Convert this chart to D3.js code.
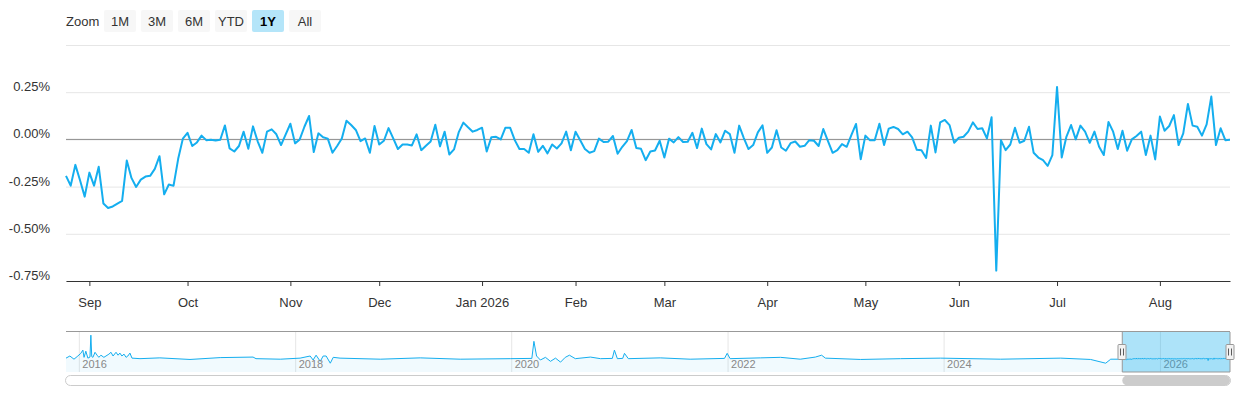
<!DOCTYPE html>
<html>
<head>
<meta charset="utf-8">
<script src="https://cdnjs.cloudflare.com/ajax/libs/d3/7.8.5/d3.min.js"></script>
<style>
  body { margin: 0; background: #fff; font-family: "Liberation Sans", Arial, sans-serif; }
</style>
</head>
<body>
<div id="chart"></div>
<script>
// daily % change, 1Y view with navigator

var zoomButtons = ["1M", "3M", "6M", "YTD", "1Y", "All"];
var selectedButton = "1Y";
var yTicks = [-0.75, -0.5, -0.25, 0, 0.25, 0.5];
var navYears = [2016, 2018, 2020, 2022, 2024, 2026];

var startDate = "2025-08-25";
var holidays = ["2025-09-01", "2025-10-13", "2025-11-27", "2025-12-25", "2026-01-01", "2026-01-19",
                "2026-02-16", "2026-04-03", "2026-05-25", "2026-06-19", "2026-07-03"];

// one value per trading day (%)
var values = [
  -0.193, -0.245, -0.135, -0.216, -0.303, -0.176, -0.245, -0.145, -0.340, -0.363,
  -0.355, -0.340, -0.326, -0.112, -0.204, -0.252, -0.213, -0.197, -0.193, -0.156,
  -0.089, -0.291, -0.239, -0.246, -0.103, 0.004, 0.035, -0.035, -0.016, 0.020,
  -0.004, -0.002, -0.006, -0.002, 0.074, -0.048, -0.064, -0.035, 0.041, -0.050,
  0.069, -0.010, -0.071, 0.041, 0.053, 0.027, -0.030, 0.027, 0.083, -0.021,
  0.000, 0.067, 0.124, -0.067, 0.032, 0.011, 0.004, -0.071, -0.035, 0.005,
  0.099, 0.076, 0.050, -0.009, 0.005, -0.071, 0.071, -0.027, -0.007, 0.060,
  0.005, -0.051, -0.027, -0.027, -0.032, 0.027, -0.057, -0.034, -0.011, 0.078,
  -0.037, 0.041, -0.080, -0.053, 0.037, 0.089, 0.064, 0.041, 0.050, 0.062,
  -0.064, 0.012, 0.014, 0.000, 0.062, 0.062, -0.004, -0.051, -0.051, -0.071,
  0.027, -0.066, -0.034, -0.074, -0.027, -0.048, -0.021, 0.041, -0.057, 0.041,
  -0.004, -0.051, -0.071, -0.062, 0.004, -0.014, -0.012, 0.018, -0.076, -0.039,
  -0.009, 0.050, -0.046, -0.050, -0.110, -0.064, -0.059, -0.007, -0.096, 0.004,
  -0.016, 0.012, -0.014, -0.012, 0.035, -0.046, 0.057, -0.025, -0.053, 0.028,
  -0.016, 0.046, 0.028, -0.071, 0.073, 0.007, -0.051, -0.030, 0.037, 0.074,
  -0.071, -0.043, 0.048, -0.043, -0.060, -0.020, -0.011, -0.039, -0.034, -0.004,
  -0.007, -0.035, 0.055, -0.009, -0.071, -0.057, -0.025, -0.039, 0.023, 0.082,
  -0.105, 0.020, -0.005, -0.004, 0.083, -0.030, 0.057, 0.066, 0.055, 0.027,
  0.041, 0.011, -0.055, -0.057, -0.098, 0.073, -0.069, 0.090, 0.103, 0.076,
  -0.018, 0.009, 0.014, 0.041, 0.090, 0.055, 0.059, 0.005, 0.117, -0.695,
  -0.004, -0.057, -0.027, 0.062, -0.018, -0.007, 0.067, -0.071, -0.096, -0.110,
  -0.140, -0.083, 0.277, -0.096, 0.014, 0.076, 0.000, 0.073, 0.041, -0.018,
  0.041, -0.039, -0.083, 0.092, 0.041, -0.051, 0.046, -0.060, 0.000, 0.018,
  0.041, -0.083, 0.020, -0.106, 0.121, 0.046, 0.071, 0.129, -0.030, 0.032,
  0.188, 0.073, 0.067, 0.020, 0.080, 0.227, -0.030, 0.059, -0.004, -0.002
];

// older history, only seen in the navigator (coarse reading)
var navHistDates = [
  "2015-11-17", "2015-11-30", "2015-12-14", "2015-12-27", "2016-01-06", "2016-01-13", "2016-01-17",
  "2016-01-23", "2016-01-30", "2016-02-06", "2016-02-09", "2016-02-12", "2016-02-16", "2016-02-23",
  "2016-03-01", "2016-03-07", "2016-03-14", "2016-03-24", "2016-03-31", "2016-04-10", "2016-04-17",
  "2016-04-24", "2016-05-04", "2016-05-11", "2016-05-17", "2016-05-24", "2016-05-31", "2016-06-07",
  "2016-06-13", "2016-06-20", "2016-06-27", "2016-07-24", "2016-09-29", "2017-01-09", "2017-04-21",
  "2017-08-10", "2017-08-20", "2017-11-10", "2018-01-16", "2018-02-19", "2018-03-01", "2018-03-11",
  "2018-03-25", "2018-04-04", "2018-04-14", "2018-04-28", "2018-05-08", "2018-05-31", "2018-10-14",
  "2019-02-26", "2019-07-11", "2019-12-27", "2020-03-09", "2020-03-16", "2020-03-25", "2020-04-07",
  "2020-04-24", "2020-05-11", "2020-05-28", "2020-06-14", "2020-06-30", "2020-07-14", "2020-08-03",
  "2020-09-23", "2020-10-27", "2020-12-06", "2020-12-13", "2020-12-23", "2021-01-10", "2021-01-16",
  "2021-01-29", "2021-05-17", "2021-08-26", "2021-12-20", "2021-12-29", "2022-01-08", "2022-04-20",
  "2022-06-27", "2022-09-02", "2022-10-23", "2022-11-13", "2022-11-26", "2023-03-25", "2023-08-07",
  "2023-12-20", "2024-07-10", "2025-01-29", "2025-05-10", "2025-06-30", "2025-07-17", "2025-08-20"
];
var navHistValues = [
  0.2, 1, -0.2, 1, 2, 3.2, 0.5, 2.8, 0.2, 0.6, 8.8, 0.8, 0.5, 2.4,
  1.3, 0.5, 1.3, 0.5, 1, 1.7, 2.4,
  1, 2.4, 1.3, 2.1, 1, 1.7, 0.5,
  1, 2.1, 0.2, 0, 0.3, -0.3, 0.4,
  0.6, 0, -0.2, 0.2, 1, -0.5, 1.3,
  -1, 1, 1, -1.7, 0.5, 0.2, -0.2,
  0.3, -0.2, 0, 0.1, 6.5, 1, -0.5,
  0.5, -1, 0.2, -1.3, 0.5, 1.3, 0,
  0.6, 0, 0.1, 3.2, 0, 0.1, 2,
  0, 0.3, -0.2, 0.1, 2, 0, 0.3,
  0.5, -0.2, 0.6, 1.3, 0.2, -0.3, 0,
  0.2, -0.2, 0.2, -0.3, -1.7, -0.2, -0.2
];

var width = 1240,
    height = 400;

var lineColor = "#14aeef";
var plot = { left: 66, right: 1230, top: 45, bottom: 281 };
var nav = { top: 332, bottom: 372 };

var parse = d3.timeParse("%Y-%m-%d"),
    fmt = d3.timeFormat("%Y-%m-%d");

// trading days (weekdays minus holidays)
var holidaySet = new Set(holidays);
var dates = [];
var day = parse(startDate);
while (dates.length < values.length) {
  var wd = day.getDay();
  if (wd !== 0 && wd !== 6 && !holidaySet.has(fmt(day))) dates.push(day);
  day = d3.timeDay.offset(day, 1);
}

var svg = d3.select("#chart").append("svg")
    .attr("width", width)
    .attr("height", height)
    .style("font-family", '"Liberation Sans", Arial, sans-serif');

// range selector buttons
svg.append("text")
    .attr("x", 66).attr("y", 26)
    .attr("font-size", 13).attr("fill", "#333")
    .text("Zoom");

var btn = svg.selectAll("g.btn")
    .data(zoomButtons)
    .enter().append("g")
    .attr("class", "btn")
    .attr("transform", function(d, i) { return "translate(" + (104 + i * 37) + ",10)"; });

btn.append("rect")
    .attr("width", 32).attr("height", 22).attr("rx", 2)
    .attr("fill", function(d) { return d === selectedButton ? "#b4e5f9" : "#f7f7f7"; });

btn.append("text")
    .attr("x", 16).attr("y", 15.5)
    .attr("text-anchor", "middle")
    .attr("font-size", 13)
    .attr("font-weight", function(d) { return d === selectedButton ? "bold" : "normal"; })
    .attr("fill", function(d) { return d === selectedButton ? "#000" : "#333"; })
    .text(function(d) { return d; });

// main scales
var x = d3.scaleLinear()
    .domain([0, values.length - 1])
    .range([plot.left, plot.right]);

var y = d3.scaleLinear()
    .domain([-0.75, 0.5])
    .range([plot.bottom, plot.top]);

// y grid + labels
var yAxis = svg.append("g")
    .attr("transform", "translate(" + plot.left + ",0)")
    .call(d3.axisLeft(y)
        .tickValues(yTicks)
        .tickSize(-(plot.right - plot.left))
        .tickPadding(16)
        .tickFormat(function(d) { return d === 0.5 ? "" : d.toFixed(2) + "%"; }));
yAxis.select(".domain").remove();
yAxis.selectAll("line").attr("stroke", "#e6e6e6");
yAxis.selectAll("text")
    .attr("dy", "-0.12em")
    .attr("font-size", 13)
    .attr("font-family", '"Liberation Sans", Arial, sans-serif')
    .attr("fill", "#333");

// zero line
svg.append("line")
    .attr("x1", plot.left).attr("x2", plot.right)
    .attr("y1", y(0)).attr("y2", y(0))
    .attr("stroke", "#8c8c8c");

// month ticks on the ordinal axis
var monthIdx = [];
dates.forEach(function(d, i) {
  if (i > 0 && d.getMonth() !== dates[i - 1].getMonth()) monthIdx.push(i);
});

var xAxis = svg.append("g")
    .attr("transform", "translate(0," + plot.bottom + ")")
    .call(d3.axisBottom(x)
        .tickValues(monthIdx)
        .tickSize(5)
        .tickSizeOuter(0)
        .tickPadding(12)
        .tickFormat(function(i) {
          var d = dates[i];
          return d.getMonth() === 0 ? d3.timeFormat("%b %Y")(d) : d3.timeFormat("%b")(d);
        }));
xAxis.select(".domain").attr("stroke", "#333");
xAxis.selectAll("line").attr("stroke", "#333");
xAxis.selectAll("text")
    .attr("font-size", 13)
    .attr("font-family", '"Liberation Sans", Arial, sans-serif')
    .attr("fill", "#333");

// main series
var line = d3.line()
    .x(function(d, i) { return x(i); })
    .y(function(d) { return y(d); });

svg.append("path")
    .datum(values)
    .attr("fill", "none")
    .attr("stroke", lineColor)
    .attr("stroke-width", 2)
    .attr("stroke-linejoin", "round")
    .attr("d", line);

// navigator
var navData = navHistDates.map(function(d, i) { return { date: parse(d), value: navHistValues[i] }; })
    .concat(dates.map(function(d, i) { return { date: d, value: values[i] }; }));

var nx = d3.scaleTime()
    .domain([navData[0].date, dates[dates.length - 1]])
    .range([plot.left, plot.right]);

var ny = d3.scaleLinear()
    .domain([-5, 10])
    .range([nav.bottom, nav.top]);

var navG = svg.append("g");

navG.selectAll("line.year")
    .data(navYears)
    .enter().append("line")
    .attr("class", "year")
    .attr("x1", function(d) { return nx(new Date(d, 0, 1)); })
    .attr("x2", function(d) { return nx(new Date(d, 0, 1)); })
    .attr("y1", nav.top).attr("y2", nav.bottom)
    .attr("stroke", "#e6e6e6");

navG.append("path")
    .datum(navData)
    .attr("fill", "rgba(20,174,239,0.06)")
    .attr("d", d3.area()
        .x(function(d) { return nx(d.date); })
        .y0(nav.bottom)
        .y1(function(d) { return ny(d.value); }));

navG.append("path")
    .datum(navData)
    .attr("fill", "none")
    .attr("stroke", lineColor)
    .attr("stroke-width", 1)
    .attr("d", d3.line()
        .x(function(d) { return nx(d.date); })
        .y(function(d) { return ny(d.value); }));

navG.selectAll("text.year")
    .data(navYears)
    .enter().append("text")
    .attr("class", "year")
    .attr("x", function(d) { return nx(new Date(d, 0, 1)) + 3; })
    .attr("y", 368)
    .attr("font-size", 11)
    .attr("fill", "#888")
    .text(function(d) { return d; });

// selected range mask
var selL = nx(dates[0]),
    selR = nx(dates[dates.length - 1]);

navG.append("rect")
    .attr("x", selL).attr("y", nav.top)
    .attr("width", selR - selL).attr("height", nav.bottom - nav.top)
    .attr("fill", "rgba(20,174,239,0.35)");

navG.append("line")
    .attr("x1", plot.left).attr("x2", plot.right)
    .attr("y1", nav.top - 0.5).attr("y2", nav.top - 0.5)
    .attr("stroke", "#999");

navG.append("path")
    .attr("fill", "none")
    .attr("stroke", "#999")
    .attr("d", "M" + selL + "," + nav.top + "V" + nav.bottom + "H" + selR + "V" + nav.top);

// handles
var handle = navG.selectAll("g.handle")
    .data([selL, selR])
    .enter().append("g")
    .attr("class", "handle")
    .attr("transform", function(d) { return "translate(" + Math.round(d) + ",344)"; });

handle.append("rect")
    .attr("x", -4).attr("y", 0.5)
    .attr("width", 8).attr("height", 15).attr("rx", 1)
    .attr("fill", "#f2f2f2").attr("stroke", "#999");

handle.selectAll("line")
    .data([-1.5, 1.5])
    .enter().append("line")
    .attr("x1", function(d) { return d; }).attr("x2", function(d) { return d; })
    .attr("y1", 4.5).attr("y2", 11.5)
    .attr("stroke", "#333").attr("stroke-width", 0.8);

// scrollbar
svg.append("rect")
    .attr("x", plot.left - 0.5).attr("y", 375.5)
    .attr("width", plot.right - plot.left + 1).attr("height", 10).attr("rx", 5)
    .attr("fill", "#fff").attr("stroke", "#ccc");

svg.append("rect")
    .attr("x", selL).attr("y", 375.5)
    .attr("width", selR - selL).attr("height", 10).attr("rx", 5)
    .attr("fill", "#cccccc");

</script>
</body>
</html>
